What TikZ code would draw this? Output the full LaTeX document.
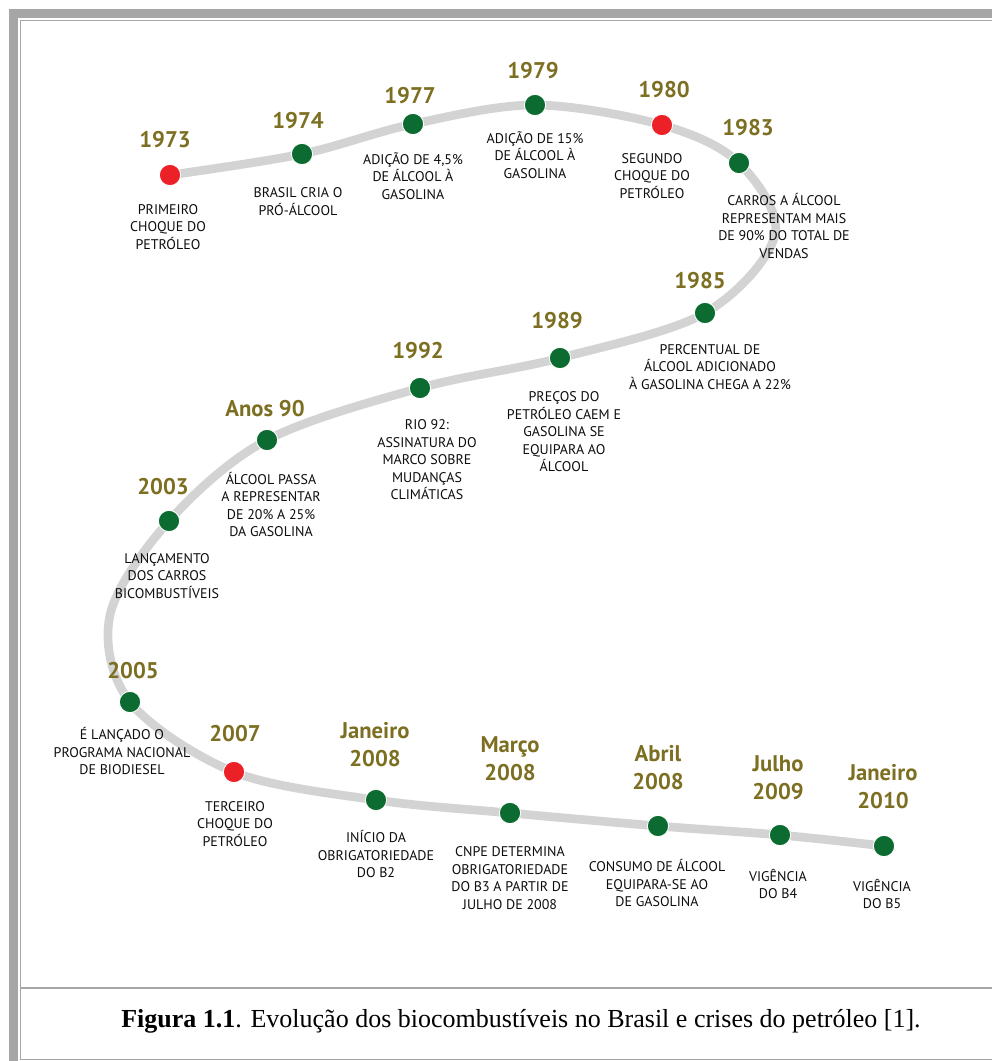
\documentclass[tikz,border=0pt]{standalone}
\usepackage{fontspec}
\setmainfont{Liberation Serif}
\newfontfamily\linhafont{PT Sans}
\usetikzlibrary{positioning}
\definecolor{verde}{HTML}{0B6B30}
\definecolor{vermelho}{HTML}{EC2127}
\definecolor{oliva}{HTML}{7D6F22}
\definecolor{trilho}{HTML}{D3D3D3}
\definecolor{moldura}{HTML}{A6A6A6}
\tikzset{
  ponto/.style = {circle, inner sep=0pt, minimum size=16pt,
    draw=white, line width=0.7pt},
  ponto_v/.style = {ponto, fill=verde},% marco verde
  ponto_r/.style = {ponto, fill=vermelho},% choque do petroleo
  ano/.style = {align=center, inner sep=0pt, text=oliva,
    font=\linhafont\bfseries\fontsize{17}{21}\selectfont},
  desc/.style = {align=center, inner sep=0pt, text=black!95,
    font=\linhafont\fontsize{10.5}{13.1}\selectfont},
  trilho_l/.style = {draw=trilho, line width=6.5pt, line cap=round},
  legenda/.style = {inner sep=0pt, font=\fontsize{19.5}{22}\selectfont},
}

\begin{document}
\begin{tikzpicture}[x=0.75pt,y=-0.75pt]
\useasboundingbox (0,0) rectangle (992,1061);
% moldura
\fill[moldura] (9,9) rectangle (992,18);
\fill[moldura] (9,9) rectangle (18,1061);
\draw[moldura, line width=1.1pt] (992,20.5) -- (20.5,20.5) -- (20.5,1059.5) -- (992,1059.5);
\draw[moldura, line width=1.1pt] (20.5,988) -- (992,988);
% pontos da linha do tempo
\coordinate (c1973) at (170,175);
\coordinate (c1974) at (302,154);
\coordinate (c1977) at (413,124);
\coordinate (c1979) at (535,105);
\coordinate (c1980) at (662,125);
\coordinate (c1983) at (739,163);
\coordinate (b1) at (775,235);
\coordinate (c1985) at (705,313);
\coordinate (c1989) at (560,358);
\coordinate (c1992) at (420,388);
\coordinate (c90) at (267,440);
\coordinate (c2003) at (169,521);
\coordinate (b2) at (110,615);
\coordinate (c2005) at (130,702);
\coordinate (c2007) at (234,772);
\coordinate (cjan08) at (376,800);
\coordinate (cmar08) at (510,813);
\coordinate (cabr08) at (658,826);
\coordinate (cjul09) at (780,835);
\coordinate (cjan10) at (884,846);
\draw[trilho_l] plot[smooth, tension=0.55] coordinates {(c1973) (c1974) (c1977)
  (c1979) (c1980) (c1983) (b1) (c1985) (c1989) (c1992) (c90) (c2003) (b2)
  (c2005) (c2007) (cjan08) (cmar08) (cabr08) (cjul09) (cjan10)};
\node[ponto_r] (p1973) at (c1973) {};
\node[ponto_v] (p1974) at (c1974) {};
\node[ponto_v] (p1977) at (c1977) {};
\node[ponto_v] (p1979) at (c1979) {};
\node[ponto_r] (p1980) at (c1980) {};
\node[ponto_v] (p1983) at (c1983) {};
\node[ponto_v] (p1985) at (c1985) {};
\node[ponto_v] (p1989) at (c1989) {};
\node[ponto_v] (p1992) at (c1992) {};
\node[ponto_v] (p90) at (c90) {};
\node[ponto_v] (p2003) at (c2003) {};
\node[ponto_v] (p2005) at (c2005) {};
\node[ponto_r] (p2007) at (c2007) {};
\node[ponto_v] (pjan08) at (cjan08) {};
\node[ponto_v] (pmar08) at (cmar08) {};
\node[ponto_v] (pabr08) at (cabr08) {};
\node[ponto_v] (pjul09) at (cjul09) {};
\node[ponto_v] (pjan10) at (cjan10) {};
% anos
\node[ano] (a1973) at (165,140) {1973};
\node[ano] (a1974) at (298,121) {1974};
\node[ano] (a1977) at (410,96) {1977};
\node[ano] (a1979) at (533,71) {1979};
\node[ano] (a1980) at (664,90) {1980};
\node[ano] (a1983) at (748,128) {1983};
\node[ano] (a1985) at (700,281) {1985};
\node[ano] (a1989) at (557,321) {1989};
\node[ano] (a1992) at (418,351) {1992};
\node[ano] (a90) at (265,409) {Anos 90};
\node[ano] (a2003) at (163,487) {2003};
\node[ano] (a2005) at (133,671) {2005};
\node[ano] (a2007) at (235,734) {2007};
\node[ano] (ajan08) at (375,745) {Janeiro\\2008};
\node[ano] (amar08) at (510,759) {Março\\2008};
\node[ano] (aabr08) at (658,768) {Abril\\2008};
\node[ano] (ajul09) at (778,778) {Julho\\2009};
\node[ano] (ajan10) at (883,786.5) {Janeiro\\2010};
% descricoes
\node[desc] (d1973) at (168,227) {PRIMEIRO\\CHOQUE DO\\PETRÓLEO};
\node[desc] (d1974) at (298,201.5) {BRASIL CRIA O\\PRÓ-ÁLCOOL};
\node[desc] (d1977) at (413,176) {ADIÇÃO DE 4,5\%\\DE ÁLCOOL À\\GASOLINA};
\node[desc] (d1979) at (535,155) {ADIÇÃO DE 15\%\\DE ÁLCOOL À\\GASOLINA};
\node[desc] (d1980) at (652,176) {SEGUNDO\\CHOQUE DO\\PETRÓLEO};
\node[desc] (d1983) at (784,226) {CARROS A ÁLCOOL\\REPRESENTAM MAIS\\DE 90\% DO TOTAL DE\\VENDAS};
\node[desc] (d1985) at (710,367) {PERCENTUAL DE\\ÁLCOOL ADICIONADO\\À GASOLINA CHEGA A 22\%};
\node[desc] (d1989) at (564,432) {PREÇOS DO\\PETRÓLEO CAEM E\\GASOLINA SE\\EQUIPARA AO\\ÁLCOOL};
\node[desc] (d1992) at (427,460) {RIO 92:\\ASSINATURA DO\\MARCO SOBRE\\MUDANÇAS\\CLIMÁTICAS};
\node[desc] (d90) at (271,504.5) {ÁLCOOL PASSA\\A REPRESENTAR\\DE 20\% A 25\%\\DA GASOLINA};
\node[desc] (d2003) at (167,576) {LANÇAMENTO\\DOS CARROS\\BICOMBUSTÍVEIS};
\node[desc] (d2005) at (122,751) {É LANÇADO O\\PROGRAMA NACIONAL\\DE BIODIESEL};
\node[desc] (d2007) at (235,824) {TERCEIRO\\CHOQUE DO\\PETRÓLEO};
\node[desc] (djan08) at (376,854) {INÍCIO DA\\OBRIGATORIEDADE\\DO B2};
\node[desc] (dmar08) at (510,878) {CNPE DETERMINA\\OBRIGATORIEDADE\\DO B3 A PARTIR DE\\JULHO DE 2008};
\node[desc] (dabr08) at (657,883) {CONSUMO DE ÁLCOOL\\EQUIPARA-SE AO\\DE GASOLINA};
\node[desc] (djul09) at (778,884) {VIGÊNCIA\\DO B4};
\node[desc] (djan10) at (882,894) {VIGÊNCIA\\DO B5};
% legenda
\node[legenda] (leg) at (521,1021) {\textbf{Figura 1.1}. Evolução dos biocombustíveis no Brasil e crises do petróleo [1].};
\end{tikzpicture}
\end{document}
